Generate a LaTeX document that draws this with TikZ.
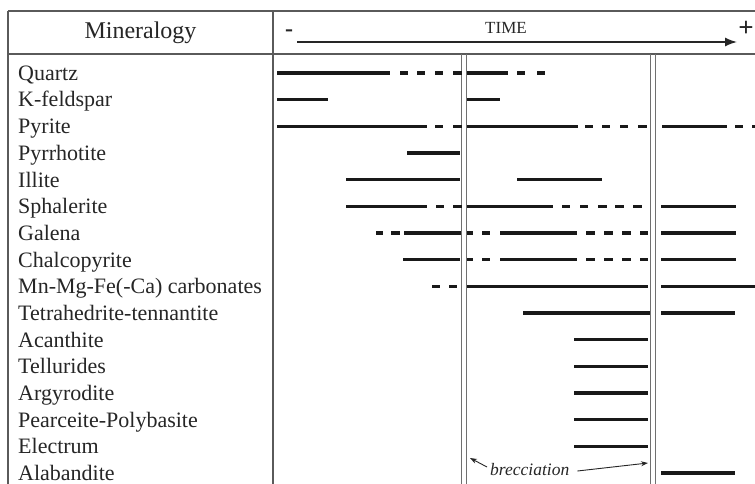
\documentclass[tikz,border=0pt]{standalone}
\usepackage{fontspec}
\setmainfont{Liberation Serif}
\usetikzlibrary{arrows.meta}
\definecolor{txt}{HTML}{262626}
\definecolor{rule}{HTML}{5A5A5A}
\definecolor{dbl}{HTML}{707070}
\tikzset{
  bar/.style={line width=3.2pt, color=black!90, line cap=butt},
  tabline/.style={line width=1.4pt, color=rule},
  dblline/.style={line width=1.1pt, color=dbl},
  lab/.style={anchor=base west, inner sep=0pt, text=txt, font=\fontsize{22}{26}\selectfont},
  hdr/.style={anchor=base, inner sep=0pt, text=txt},
  brarrow/.style={line width=0.9pt, color=txt, -{Stealth[length=7pt,width=5pt]}}
}
\begin{document}
\begin{tikzpicture}[x=1pt,y=-1pt]
\useasboundingbox (0,0) rectangle (755,484);
\fill[white] (0,0) rectangle (755,484);
% table frame
\draw[tabline] (8,11) -- (755,11);
\draw[tabline] (8,54) -- (755,54);
\draw[tabline] (8,11) -- (8,484);
\draw[tabline] (273,11) -- (273,484);
% double vertical lines (brecciation)
\draw[dblline] (461.8,54) -- (461.8,484);
\draw[dblline] (466.2,54) -- (466.2,484);
\draw[dblline] (650.8,54) -- (650.8,484);
\draw[dblline] (655.2,54) -- (655.2,484);
% header
\node[hdr, font=\fontsize{24}{28}\selectfont] (mineralogy) at (140.5,38.5) {Mineralogy};
\node[hdr, font=\fontsize{17}{20}\selectfont] (time) at (506,33.3) {TIME};
\node[hdr, font=\fontsize{24}{28}\bfseries] (minus) at (289,37) {-};
\node[hdr, font=\fontsize{27}{32}\bfseries] (plus) at (746,36.5) {+};
\coordinate (tstart) at (297,42);
\coordinate (tend) at (737,42);
\draw[line width=1.5pt, color=txt, -{Latex[length=12pt,width=9pt]}] (tstart) -- (tend);
% labels
\node[lab] (r0) at (18,80.3) {Quartz};
\node[lab] (r1) at (18,107) {K-feldspar};
\node[lab] (r2) at (18,133.6) {Pyrite};
\node[lab] (r3) at (18,160.3) {Pyrrhotite};
\node[lab] (r4) at (18,187) {Illite};
\node[lab] (r5) at (18,213.6) {Sphalerite};
\node[lab] (r6) at (18,240.3) {Galena};
\node[lab] (r7) at (18,267) {Chalcopyrite};
\node[lab] (r8) at (18,293.6) {Mn-Mg-Fe(-Ca) carbonates};
\node[lab] (r9) at (18,320.3) {Tetrahedrite-tennantite};
\node[lab] (r10) at (18,347) {Acanthite};
\node[lab] (r11) at (18,373.6) {Tellurides};
\node[lab] (r12) at (18,400.3) {Argyrodite};
\node[lab] (r13) at (18,427) {Pearceite-Polybasite};
\node[lab] (r14) at (18,453.6) {Electrum};
\node[lab] (r15) at (18,480.3) {Alabandite};
% bars
% Quartz
\foreach \a/\b in {277/390,400/408,417/425,435/443,453/462,467/508,517/525,537/545}
  \draw[bar] (\a,73) -- (\b,73);
% K-feldspar
\foreach \a/\b in {277/328,467/500}
  \draw[bar] (\a,99.7) -- (\b,99.7);
% Pyrite
\foreach \a/\b in {277/427,435/443,453/462,467/578,585/593,602/610,620/628,638/647,662/727,735/743,752/755}
  \draw[bar] (\a,126.3) -- (\b,126.3);
% Pyrrhotite
\draw[bar] (407,153) -- (460,153);
% Illite
\foreach \a/\b in {346/460,517/602}
  \draw[bar] (\a,179.7) -- (\b,179.7);
% Sphalerite
\foreach \a/\b in {346/427,436/444,453/462,467/553,562/570,580/588,598/607,615/624,633/642,661/736}
  \draw[bar] (\a,206.3) -- (\b,206.3);
% Galena
\foreach \a/\b in {376/383,391/400,404/461,467/473,482/490,500/577,586/595,604/613,622/631,640/648,661/736}
  \draw[bar] (\a,233) -- (\b,233);
% Chalcopyrite
\foreach \a/\b in {403/460,467/473,482/490,500/577,586/595,604/613,622/631,640/648,661/736}
  \draw[bar] (\a,259.7) -- (\b,259.7);
% Mn-Mg-Fe carbonates
\foreach \a/\b in {432/440,449/457,467/648,661/755}
  \draw[bar] (\a,286.3) -- (\b,286.3);
% Tetrahedrite
\foreach \a/\b in {523/650,661/735}
  \draw[bar] (\a,313) -- (\b,313);
% Acanthite .. Electrum
\foreach \y in {339.7,366.3,393,419.7,446.3}
  \draw[bar] (574,\y) -- (648,\y);
% Alabandite
\draw[bar] (661,473) -- (735,473);
% brecciation
\node[anchor=base west, inner sep=0pt, text=txt, font=\fontsize{17.5}{20}\itshape] (brec) at (490,475) {brecciation};
\coordinate (b1) at (470,458);
\coordinate (b2) at (648,463);
\draw[brarrow] ([xshift=-3pt,yshift=8pt]brec.base west) -- (b1);
\draw[brarrow] ([xshift=8pt,yshift=4pt]brec.base east) -- (b2);
\end{tikzpicture}
\end{document}
